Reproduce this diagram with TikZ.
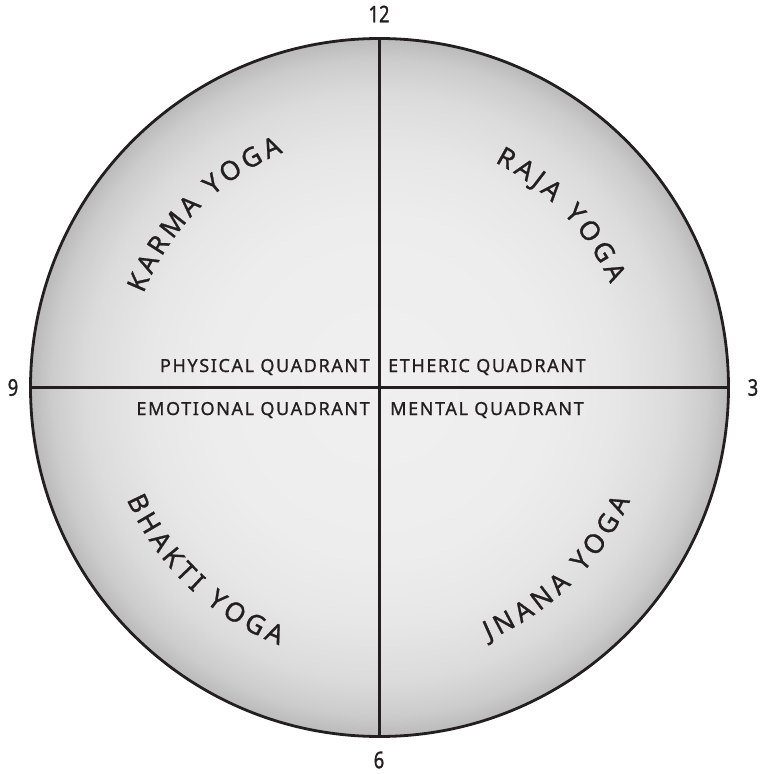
\documentclass[tikz,border=0pt]{standalone}
\usepackage{fontspec}
\setmainfont{Noto Sans}
\newfontfamily\qfont[LetterSpace=9,FakeBold=0.9]{Noto Sans}
\newfontfamily\numfont[FakeBold=1.2]{Noto Sans}
\newfontfamily\yogafont[FakeBold=1.0]{Noto Sans}
\usetikzlibrary{decorations.text}
\definecolor{ink}{HTML}{231F20}
\definecolor{gA}{gray}{0.94}
\definecolor{gB}{gray}{0.93}
\definecolor{gC}{gray}{0.905}
\definecolor{gD}{gray}{0.86}
\definecolor{gE}{gray}{0.80}
\definecolor{gF}{gray}{0.73}
\pgfdeclareradialshading{ballgray}{\pgfpoint{0bp}{0bp}}{color(0bp)=(gA); color(12bp)=(gB); color(17bp)=(gC); color(21bp)=(gD); color(23.5bp)=(gE); color(25bp)=(gF); color(50bp)=(gF)}
\newcommand{\arcfont}{\yogafont\fontsize{26.5}{26.5}\selectfont}
\tikzset{
  disc/.style={circle, minimum size=698pt, inner sep=0pt, outer sep=0pt, draw=ink, line width=2.8pt, shading=ballgray},
  axis/.style={draw=ink, line width=2.4pt},
  quadlabel/.style={inner sep=0pt, text=ink, font=\qfont\fontsize{18}{18}\selectfont},
  clocklabel/.style={inner sep=0pt, text=ink, font=\numfont\fontsize{23}{23}\selectfont},
  arctext/.style={decorate, decoration={text along path, text align=fit to path, text color=ink}}
}
\begin{document}
\begin{tikzpicture}[x=1pt,y=1pt]
\useasboundingbox (-379.5,-386.5) rectangle (381.5,387.5);
\node[disc] (c) at (0,0) {};
\draw[axis] (c.north) -- (c.south);
\draw[axis] (c.west) -- (c.east);
% clock numbers
\node[clocklabel] (n12) at (-0.5,373.5) {\scalebox{0.8}[1]{12}};
\node[clocklabel] (n9) at (-366.5,0) {\scalebox{0.8}[1]{9}};
\node[clocklabel] (n3) at (373.5,0) {\scalebox{0.8}[1]{3}};
\node[clocklabel] (n6) at (-0.5,-372.5) {\scalebox{0.8}[1]{6}};
% quadrant labels
\node[quadlabel, anchor=base east] (phys) at (-9.5,15.5) {PHYSICAL QUADRANT};
\node[quadlabel, anchor=base west] (ether) at (8.5,15.5) {ETHERIC QUADRANT};
\node[quadlabel, anchor=base east] (emo) at (-9.5,-27.5) {EMOTIONAL QUADRANT};
\node[quadlabel, anchor=base west] (ment) at (10.5,-27.5) {MENTAL QUADRANT};
% curved yoga names
\path[arctext, decoration={text={|\arcfont|KARMA YOGA}}]
  (158.3:254) arc[start angle=158.3, end angle=112.3, radius=254];
\path[arctext, decoration={text={|\arcfont|RAJA YOGA}}]
  (62.9:253) arc[start angle=62.9, end angle=24.2, radius=253];
\path[arctext, decoration={text={|\arcfont|BHAKTI YOGA}}]
  (203.9:276.5) arc[start angle=203.9, end angle=248.7, radius=276.5];
\path[arctext, decoration={text={|\arcfont|JNANA YOGA}}]
  (293.3:275) arc[start angle=293.3, end angle=335.7, radius=275];
\end{tikzpicture}
\end{document}
